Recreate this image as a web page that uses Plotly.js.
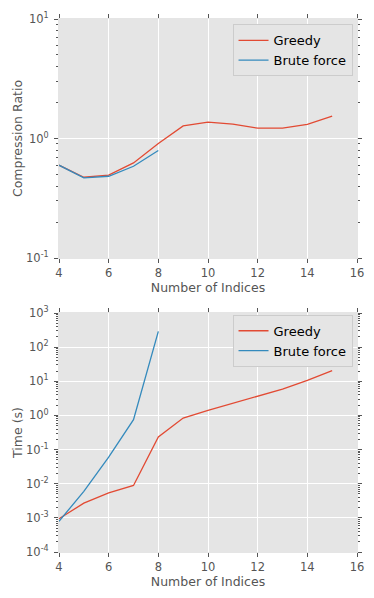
<!DOCTYPE html>
<html>
<head>
<meta charset="utf-8">
<script src="https://cdn.plot.ly/plotly-3.0.1.min.js"></script>
<style>body{margin:0;padding:0;}#myDiv{width:374px;height:598px;}</style>
</head>
<body>
<div id="myDiv"></div>
<script>
// number of indices
var nGreedy = [4, 5, 6, 7, 8, 9, 10, 11, 12, 13, 14, 15];
var nBrute = [4, 5, 6, 7, 8];

// compression ratio
var ratioGreedy = [0.598, 0.474, 0.493, 0.625, 0.908, 1.276, 1.37, 1.318, 1.22, 1.22, 1.31, 1.54];
var ratioBrute = [0.598, 0.468, 0.483, 0.586, 0.794];

// time (s)
var timeGreedy = [0.00094, 0.0027, 0.0054, 0.0089, 0.234, 0.84, 1.41, 2.3, 3.6, 5.9, 10.6, 20.4];
var timeBrute = [0.00079, 0.006, 0.06, 0.75, 290];

// log tick labels
var ratioTicks = [0.1, 1, 10];
var ratioLabels = ['10<sup>-1</sup>', '10<sup>0</sup>', '10<sup>1</sup>'];
var timeTicks = [1e-4, 1e-3, 1e-2, 1e-1, 1, 10, 100, 1000];
var timeLabels = ['10<sup>-4</sup>', '10<sup>-3</sup>', '10<sup>-2</sup>', '10<sup>-1</sup>',
  '10<sup>0</sup>', '10<sup>1</sup>', '10<sup>2</sup>', '10<sup>3</sup>'];

var red = '#E24A33', blue = '#348ABD';

var trace1 = {x: nGreedy, y: ratioGreedy, name: 'Greedy', mode: 'lines',
  line: {color: red, width: 1.3}, xaxis: 'x', yaxis: 'y', legend: 'legend'};
var trace2 = {x: nBrute, y: ratioBrute, name: 'Brute force', mode: 'lines',
  line: {color: blue, width: 1.3}, xaxis: 'x', yaxis: 'y', legend: 'legend'};
var trace3 = {x: nGreedy, y: timeGreedy, name: 'Greedy', mode: 'lines',
  line: {color: red, width: 1.3}, xaxis: 'x2', yaxis: 'y2', legend: 'legend2'};
var trace4 = {x: nBrute, y: timeBrute, name: 'Brute force', mode: 'lines',
  line: {color: blue, width: 1.3}, xaxis: 'x2', yaxis: 'y2', legend: 'legend2'};

var tickFont = {family: 'DejaVu Sans', size: 11.5, color: '#555555'};
var titleFont = {family: 'DejaVu Sans', size: 12.5, color: '#555555'};

function xax(anchor) {
  return {
    anchor: anchor, range: [4, 16], dtick: 2, tick0: 4,
    showgrid: true, gridcolor: 'white', gridwidth: 1, zeroline: false,
    showline: true, linecolor: '#E5E5E5', linewidth: 1,
    ticks: 'outside', ticklen: 4, tickcolor: '#555555', mirror: 'ticks',
    tickfont: tickFont,
    title: {text: 'Number of Indices', font: titleFont, standoff: 4}
  };
}
function yax(anchor, domain, range, vals, labels, title) {
  return {
    anchor: anchor, domain: domain, type: 'log', range: range,
    tickvals: vals, ticktext: labels, showgrid: true, gridcolor: 'white', zeroline: false,
    showline: true, linecolor: '#E5E5E5', linewidth: 1,
    ticks: 'outside', ticklen: 4, tickcolor: '#555555', mirror: 'ticks',
    minor: {ticks: 'outside', ticklen: 2, tickcolor: '#555555', dtick: 'D1', showgrid: false},
    tickfont: tickFont, ticklabelstandoff: 3,
    title: {text: title, font: titleFont, standoff: 0}
  };
}

var legendStyle = function (y) {
  return {x: 0.985, y: y, xanchor: 'right', yanchor: 'top',
    bgcolor: '#E5E5E5', bordercolor: '#CCCCCC', borderwidth: 1,
    font: {family: 'DejaVu Sans', size: 13, color: 'black'}};
};

var data = [trace1, trace2, trace3, trace4];
var layout = {
  width: 374, height: 598,
  margin: {l: 59, r: 17, t: 19, b: 46},
  paper_bgcolor: 'white', plot_bgcolor: '#E5E5E5',
  showlegend: true,
  xaxis: xax('y'),
  yaxis: yax('x', [0.5516, 1], [-1, 1], ratioTicks, ratioLabels, 'Compression Ratio'),
  xaxis2: xax('y2'),
  yaxis2: yax('x2', [0, 0.4484], [-4, 3], timeTicks, timeLabels, 'Time (s)'),
  legend: legendStyle(0.99),
  legend2: legendStyle(0.445)
};
Plotly.newPlot('myDiv', data, layout, {staticPlot: true});
</script>
</body>
</html>
